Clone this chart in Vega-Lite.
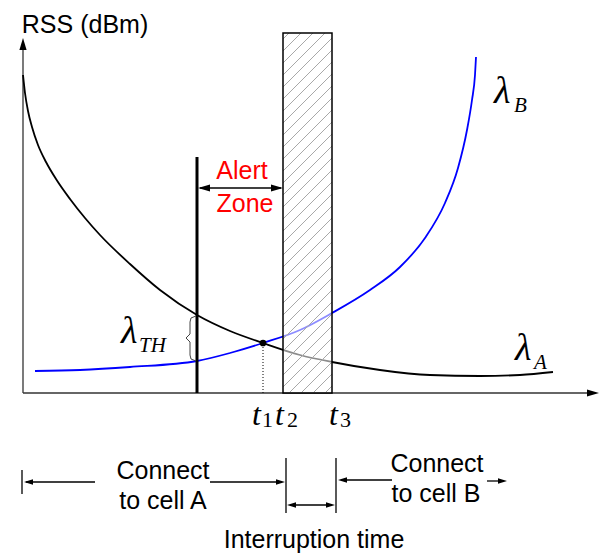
{
  "$schema": "https://vega.github.io/schema/vega-lite/v6.json",
  "width": 606,
  "height": 555,
  "padding": 0,
  "autosize": {"type": "fit", "contains": "padding"},
  "background": "white",
  "config": {"view": {"stroke": null}},
  "datasets": {
    "axes": [
      {"x": 23, "y": 393, "x2": 594, "y2": 393},
      {"x": 23, "y": 393, "x2": 23, "y2": 44}
    ],
    "curves": [
      {"s": "A", "i": 0, "x": 23, "y": 75},
      {"s": "A", "i": 1, "x": 25, "y": 93},
      {"s": "A", "i": 2, "x": 28, "y": 111},
      {"s": "A", "i": 3, "x": 32, "y": 127},
      {"s": "A", "i": 4, "x": 38, "y": 145},
      {"s": "A", "i": 5, "x": 46, "y": 162},
      {"s": "A", "i": 6, "x": 56, "y": 179},
      {"s": "A", "i": 7, "x": 70, "y": 199},
      {"s": "A", "i": 8, "x": 85, "y": 218},
      {"s": "A", "i": 9, "x": 100, "y": 235},
      {"s": "A", "i": 10, "x": 130, "y": 264},
      {"s": "A", "i": 11, "x": 160, "y": 290},
      {"s": "A", "i": 12, "x": 197, "y": 315},
      {"s": "A", "i": 13, "x": 230, "y": 331},
      {"s": "A", "i": 14, "x": 263, "y": 343},
      {"s": "A", "i": 15, "x": 300, "y": 355},
      {"s": "A", "i": 16, "x": 332, "y": 362},
      {"s": "A", "i": 17, "x": 380, "y": 370},
      {"s": "A", "i": 18, "x": 430, "y": 375},
      {"s": "A", "i": 19, "x": 480, "y": 376},
      {"s": "A", "i": 20, "x": 520, "y": 375},
      {"s": "A", "i": 21, "x": 553, "y": 372},
      {"s": "B", "i": 0, "x": 35, "y": 371},
      {"s": "B", "i": 1, "x": 80, "y": 370},
      {"s": "B", "i": 2, "x": 130, "y": 367},
      {"s": "B", "i": 3, "x": 197, "y": 361},
      {"s": "B", "i": 4, "x": 230, "y": 353},
      {"s": "B", "i": 5, "x": 263, "y": 343},
      {"s": "B", "i": 6, "x": 300, "y": 330},
      {"s": "B", "i": 7, "x": 332, "y": 313},
      {"s": "B", "i": 8, "x": 370, "y": 290},
      {"s": "B", "i": 9, "x": 400, "y": 267},
      {"s": "B", "i": 10, "x": 425, "y": 238},
      {"s": "B", "i": 11, "x": 445, "y": 203},
      {"s": "B", "i": 12, "x": 458, "y": 168},
      {"s": "B", "i": 13, "x": 467, "y": 130},
      {"s": "B", "i": 14, "x": 472, "y": 100},
      {"s": "B", "i": 15, "x": 475, "y": 75},
      {"s": "B", "i": 16, "x": 476, "y": 57}
    ],
    "box": [{"x": 283, "y": 33, "x2": 332, "y2": 393}],
    "hatch": [
      {"x": 283, "y": 39, "x2": 289, "y2": 33},
      {"x": 283, "y": 51, "x2": 301, "y2": 33},
      {"x": 283, "y": 63, "x2": 313, "y2": 33},
      {"x": 283, "y": 75, "x2": 325, "y2": 33},
      {"x": 283, "y": 87, "x2": 332, "y2": 38},
      {"x": 283, "y": 99, "x2": 332, "y2": 50},
      {"x": 283, "y": 111, "x2": 332, "y2": 62},
      {"x": 283, "y": 123, "x2": 332, "y2": 74},
      {"x": 283, "y": 135, "x2": 332, "y2": 86},
      {"x": 283, "y": 147, "x2": 332, "y2": 98},
      {"x": 283, "y": 159, "x2": 332, "y2": 110},
      {"x": 283, "y": 171, "x2": 332, "y2": 122},
      {"x": 283, "y": 183, "x2": 332, "y2": 134},
      {"x": 283, "y": 195, "x2": 332, "y2": 146},
      {"x": 283, "y": 207, "x2": 332, "y2": 158},
      {"x": 283, "y": 219, "x2": 332, "y2": 170},
      {"x": 283, "y": 231, "x2": 332, "y2": 182},
      {"x": 283, "y": 243, "x2": 332, "y2": 194},
      {"x": 283, "y": 255, "x2": 332, "y2": 206},
      {"x": 283, "y": 267, "x2": 332, "y2": 218},
      {"x": 283, "y": 279, "x2": 332, "y2": 230},
      {"x": 283, "y": 291, "x2": 332, "y2": 242},
      {"x": 283, "y": 303, "x2": 332, "y2": 254},
      {"x": 283, "y": 315, "x2": 332, "y2": 266},
      {"x": 283, "y": 327, "x2": 332, "y2": 278},
      {"x": 283, "y": 339, "x2": 332, "y2": 290},
      {"x": 283, "y": 351, "x2": 332, "y2": 302},
      {"x": 283, "y": 363, "x2": 332, "y2": 314},
      {"x": 283, "y": 375, "x2": 332, "y2": 326},
      {"x": 283, "y": 387, "x2": 332, "y2": 338},
      {"x": 289, "y": 393, "x2": 332, "y2": 350},
      {"x": 301, "y": 393, "x2": 332, "y2": 362},
      {"x": 313, "y": 393, "x2": 332, "y2": 374},
      {"x": 325, "y": 393, "x2": 332, "y2": 386}
    ],
    "thick": [{"x": 197, "y": 157, "x2": 197, "y2": 393}],
    "dotted": [{"x": 263, "y": 347, "x2": 263, "y2": 393}],
    "brace": [
      {"i": 0, "x": 196, "y": 316},
      {"i": 1, "x": 191, "y": 318},
      {"i": 2, "x": 190, "y": 322},
      {"i": 3, "x": 190, "y": 334},
      {"i": 4, "x": 186, "y": 338},
      {"i": 5, "x": 190, "y": 342},
      {"i": 6, "x": 190, "y": 355},
      {"i": 7, "x": 191, "y": 359},
      {"i": 8, "x": 196, "y": 361}
    ],
    "dot": [{"x": 263, "y": 343}],
    "lines": [
      {"x": 200, "y": 188, "x2": 281, "y2": 188},
      {"x": 22, "y": 470, "x2": 22, "y2": 494},
      {"x": 26, "y": 482, "x2": 95, "y2": 482},
      {"x": 210, "y": 482, "x2": 282, "y2": 482},
      {"x": 286, "y": 458, "x2": 286, "y2": 513},
      {"x": 336, "y": 458, "x2": 336, "y2": 513},
      {"x": 290, "y": 505, "x2": 332, "y2": 505},
      {"x": 341, "y": 480, "x2": 392, "y2": 480},
      {"x": 487, "y": 481, "x2": 503, "y2": 481}
    ],
    "headsBig": [
      {"x": 23, "y": 44, "ang": 0},
      {"x": 593, "y": 393, "ang": 90},
      {"x": 204, "y": 188, "ang": 270},
      {"x": 277, "y": 188, "ang": 90}
    ],
    "headsSmall": [
      {"x": 28.5, "y": 482, "ang": 270},
      {"x": 280.5, "y": 482, "ang": 90},
      {"x": 291.5, "y": 505, "ang": 270},
      {"x": 330.5, "y": 505, "ang": 90},
      {"x": 342.5, "y": 480, "ang": 270},
      {"x": 502.5, "y": 481, "ang": 90}
    ],
    "sans": [
      {"x": 85, "y": 33, "t": "RSS (dBm)"},
      {"x": 163, "y": 479, "t": "Connect"},
      {"x": 163, "y": 509, "t": "to cell A"},
      {"x": 437, "y": 472, "t": "Connect"},
      {"x": 436, "y": 502, "t": "to cell B"},
      {"x": 314, "y": 548, "t": "Interruption time"}
    ],
    "red": [
      {"x": 242, "y": 179, "t": "Alert"},
      {"x": 245, "y": 212, "t": "Zone"}
    ],
    "lam": [
      {"x": 494, "y": 103, "t": "λ"},
      {"x": 515, "y": 360, "t": "λ"},
      {"x": 121, "y": 343, "t": "λ"}
    ],
    "lamSub": [
      {"x": 514, "y": 112, "t": "B"},
      {"x": 534, "y": 369, "t": "A"},
      {"x": 139, "y": 352, "t": "TH"}
    ],
    "tt": [
      {"x": 252, "y": 425, "t": "t"},
      {"x": 275, "y": 425, "t": "t"},
      {"x": 329, "y": 425, "t": "t"}
    ],
    "tSub": [
      {"x": 262, "y": 427, "t": "1"},
      {"x": 287, "y": 427, "t": "2"},
      {"x": 340, "y": 427, "t": "3"}
    ]
  },
  "encoding": {
    "x": {"field": "x", "type": "quantitative", "axis": null, "scale": {"domain": [0, 606], "nice": false, "zero": false}},
    "y": {"field": "y", "type": "quantitative", "axis": null, "scale": {"domain": [0, 555], "nice": false, "zero": false, "reverse": true}}
  },
  "layer": [
    {
      "data": {"name": "axes"},
      "mark": {"type": "rule", "color": "#333333", "strokeWidth": 1.3},
      "encoding": {"x2": {"field": "x2"}, "y2": {"field": "y2"}}
    },
    {
      "data": {"name": "curves"},
      "mark": {"type": "line", "interpolate": "monotone", "strokeWidth": 1.8},
      "encoding": {
        "order": {"field": "i", "type": "quantitative"},
        "color": {"field": "s", "type": "nominal", "legend": null, "scale": {"domain": ["A", "B"], "range": ["#000000", "#0000ff"]}}
      }
    },
    {
      "data": {"name": "box"},
      "mark": {"type": "rect", "fill": "white", "fillOpacity": 0.55, "strokeWidth": 0},
      "encoding": {"x2": {"field": "x2"}, "y2": {"field": "y2"}}
    },
    {
      "data": {"name": "hatch"},
      "mark": {"type": "rule", "color": "#a8a8a8", "strokeWidth": 1},
      "encoding": {"x2": {"field": "x2"}, "y2": {"field": "y2"}}
    },
    {
      "data": {"name": "box"},
      "mark": {"type": "rect", "fillOpacity": 0, "stroke": "#000000", "strokeWidth": 1.5},
      "encoding": {"x2": {"field": "x2"}, "y2": {"field": "y2"}}
    },
    {
      "data": {"name": "thick"},
      "mark": {"type": "rule", "color": "#000000", "strokeWidth": 3},
      "encoding": {"x2": {"field": "x2"}, "y2": {"field": "y2"}}
    },
    {
      "data": {"name": "dotted"},
      "mark": {"type": "rule", "color": "#000000", "strokeWidth": 1, "strokeDash": [1, 2]},
      "encoding": {"x2": {"field": "x2"}, "y2": {"field": "y2"}}
    },
    {
      "data": {"name": "brace"},
      "mark": {"type": "line", "color": "#444444", "strokeWidth": 1, "interpolate": "linear"},
      "encoding": {"order": {"field": "i", "type": "quantitative"}}
    },
    {
      "data": {"name": "dot"},
      "mark": {"type": "point", "filled": true, "color": "#000000", "size": 45, "opacity": 1},
      "encoding": {}
    },
    {
      "data": {"name": "lines"},
      "mark": {"type": "rule", "color": "#000000", "strokeWidth": 1.3},
      "encoding": {"x2": {"field": "x2"}, "y2": {"field": "y2"}}
    },
    {
      "data": {"name": "headsBig"},
      "mark": {"type": "point", "filled": true, "color": "#000000", "opacity": 1, "shape": "M0,-1L0.6,1L-0.6,1Z", "size": 144},
      "encoding": {"angle": {"field": "ang", "type": "quantitative", "scale": null}}
    },
    {
      "data": {"name": "headsSmall"},
      "mark": {"type": "point", "filled": true, "color": "#000000", "opacity": 1, "shape": "M0,-1L0.6,1L-0.6,1Z", "size": 81},
      "encoding": {"angle": {"field": "ang", "type": "quantitative", "scale": null}}
    },
    {
      "data": {"name": "sans"},
      "mark": {"type": "text", "font": "Liberation Sans", "fontSize": 25, "color": "#000000", "align": "center", "baseline": "alphabetic"},
      "encoding": {"text": {"field": "t"}}
    },
    {
      "data": {"name": "red"},
      "mark": {"type": "text", "font": "Liberation Sans", "fontSize": 25, "color": "#ff0000", "align": "center", "baseline": "alphabetic"},
      "encoding": {"text": {"field": "t"}}
    },
    {
      "data": {"name": "lam"},
      "mark": {"type": "text", "font": "Liberation Serif", "fontStyle": "italic", "fontSize": 38, "color": "#000000", "align": "left", "baseline": "alphabetic"},
      "encoding": {"text": {"field": "t"}}
    },
    {
      "data": {"name": "lamSub"},
      "mark": {"type": "text", "font": "Liberation Serif", "fontStyle": "italic", "fontSize": 21, "color": "#000000", "align": "left", "baseline": "alphabetic"},
      "encoding": {"text": {"field": "t"}}
    },
    {
      "data": {"name": "tt"},
      "mark": {"type": "text", "font": "Liberation Serif", "fontStyle": "italic", "fontSize": 32, "color": "#000000", "align": "left", "baseline": "alphabetic"},
      "encoding": {"text": {"field": "t"}}
    },
    {
      "data": {"name": "tSub"},
      "mark": {"type": "text", "font": "Liberation Serif", "fontSize": 22, "color": "#000000", "align": "left", "baseline": "alphabetic"},
      "encoding": {"text": {"field": "t"}}
    }
  ]
}
